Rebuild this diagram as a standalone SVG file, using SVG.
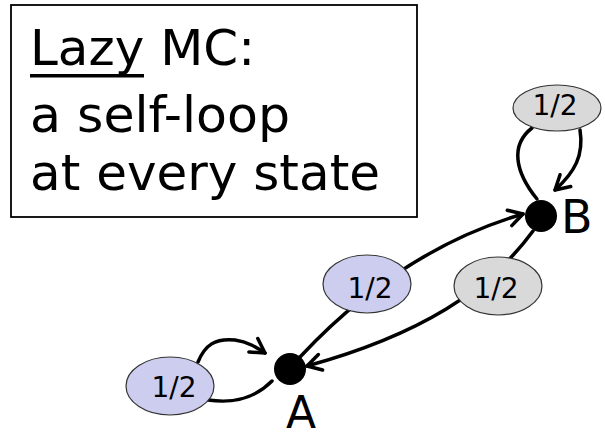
<svg xmlns="http://www.w3.org/2000/svg" width="605" height="440" viewBox="0 0 605 440">
  <style>
    .edge { fill: none; stroke: #000; stroke-width: 3.5; stroke-linecap: round; }
    .arrow { marker-end: url(#chevron); }
    .prob-blue { fill: #cdcdf0; stroke: #333; stroke-width: 1.2; }
    .prob-gray { fill: #d9d9d9; stroke: #333; stroke-width: 1.2; }
    .prob { font-family: "DejaVu Sans", sans-serif; font-size: 28px; fill: #000; text-anchor: middle; }
    .state { fill: #000; }
    .state-label { font-family: "DejaVu Sans", sans-serif; font-size: 46px; fill: #000; }
    .caption { font-family: "DejaVu Sans", sans-serif; font-size: 50px; fill: #000; }
  </style>
  <defs>
    <marker id="chevron" markerUnits="userSpaceOnUse" markerWidth="30" markerHeight="30" refX="0" refY="0" orient="auto" overflow="visible">
      <path d="M-14,-8 L0,0 L-14,8" fill="none" stroke="#000" stroke-width="3.5" stroke-linecap="round" stroke-linejoin="round"/>
    </marker>
  </defs>

  <rect width="605" height="440" fill="#fff"/>

  <!-- caption box -->
  <g id="caption">
    <rect x="11" y="5" width="406" height="212" fill="#fff" stroke="#000" stroke-width="1.8"/>
    <text class="caption" x="30" y="65" textLength="225" lengthAdjust="spacingAndGlyphs">Lazy MC:</text>
    <rect x="30" y="74" width="114" height="3.5" fill="#000"/>
    <text class="caption" x="30" y="132" textLength="260" lengthAdjust="spacingAndGlyphs">a self-loop</text>
    <text class="caption" x="30" y="190" textLength="350" lengthAdjust="spacingAndGlyphs">at every state</text>
  </g>

  <!-- transitions -->
  <g id="connectors">
    <!-- A to B -->
    <path class="edge arrow" d="M300,357 Q400,250 523,214"/>
    <!-- B to A -->
    <path class="edge arrow" d="M533,231 C490,290 420,335 307,366"/>
    <!-- B self-loop -->
    <path class="edge" d="M537,199 C515,172 510,145 532,128"/>
    <path class="edge arrow" d="M580,130 C584,155 575,172 555,190"/>
    <!-- A self-loop -->
    <path class="edge arrow" d="M198,362 C205,345 215,338 235,340 C248,342 256,347 265,353"/>
    <path class="edge" d="M208,400 C235,404 255,398 272,381"/>
  </g>

  <!-- transition probabilities -->
  <g id="p-BB">
    <ellipse class="prob-gray" cx="557" cy="108" rx="44" ry="23"/>
    <text class="prob" x="555" y="115">1/2</text>
  </g>
  <g id="p-AB">
    <ellipse class="prob-blue" cx="367" cy="284" rx="44" ry="29"/>
    <text class="prob" x="370" y="298">1/2</text>
  </g>
  <g id="p-BA">
    <ellipse class="prob-gray" cx="498" cy="286" rx="44" ry="29"/>
    <text class="prob" x="496" y="298">1/2</text>
  </g>
  <g id="p-AA">
    <ellipse class="prob-blue" cx="170" cy="386" rx="44" ry="29"/>
    <text class="prob" x="174" y="397">1/2</text>
  </g>

  <!-- states -->
  <g id="state-A">
    <circle class="state" cx="290" cy="369" r="16"/>
    <text class="state-label" x="286" y="428" style="font-size:44px">A</text>
  </g>
  <g id="state-B">
    <circle class="state" cx="541" cy="216" r="16"/>
    <text class="state-label" x="561" y="233">B</text>
  </g>
</svg>
